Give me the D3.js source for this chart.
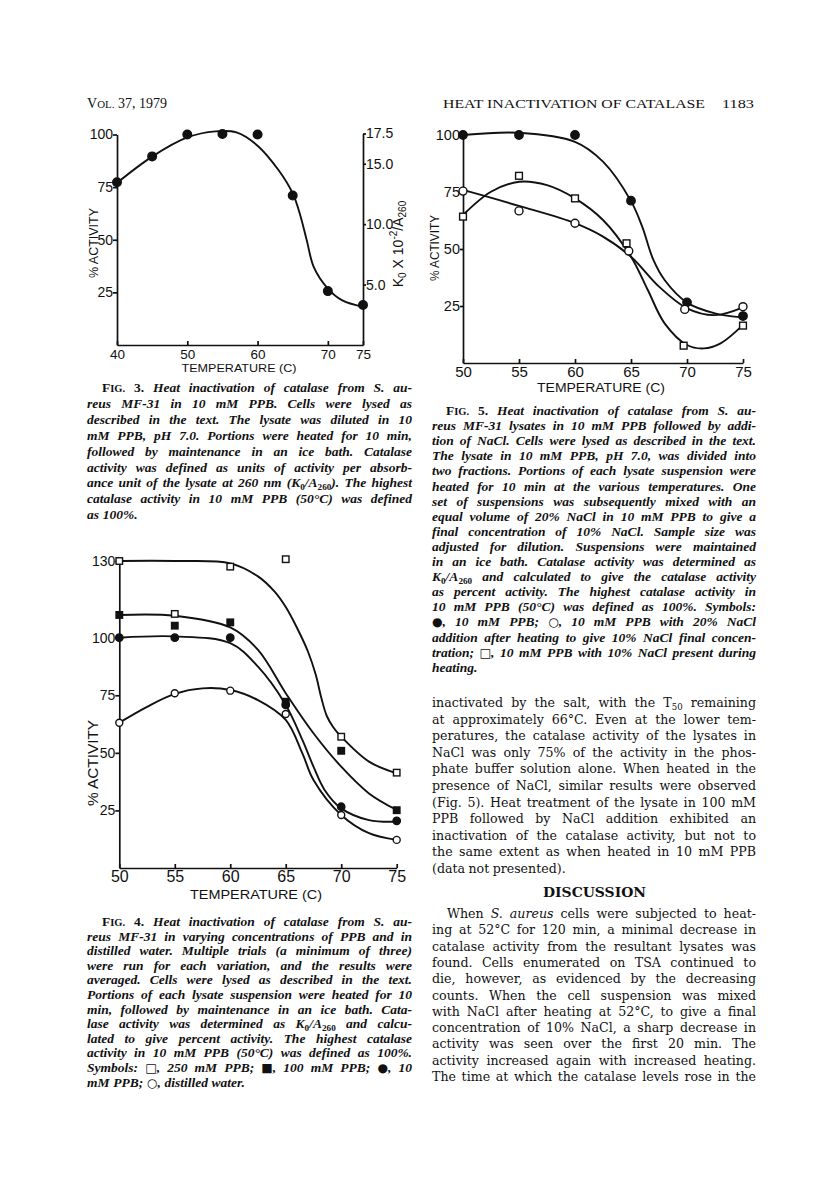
<!DOCTYPE html>
<html><head><meta charset="utf-8">
<script src="https://cdn.jsdelivr.net/npm/d3@7"></script>
<style>body{margin:0;background:#fff}svg{display:block}</style>
</head><body>
<svg id="page" width="816" height="1203"></svg>
<script>
// ---------------- DATA ----------------
// Fig. 3
const fig3Temps = [40, 45, 50, 55, 60, 65, 70, 75];
const fig3Activity = [77.3, 89.6, 100, 100.2, 100, 71, 25.6, 19];
const fig3CurveTemps = [40, 45, 50, 54, 57, 60, 63, 65, 66, 67, 68, 70, 72, 75];
const fig3CurveActivity = [77, 89.5, 98.6, 101.5, 101, 94.7, 83, 72, 62.5, 49.7, 37, 26.8, 21.3, 18.1];
const fig3XTicks = [40, 50, 60, 70, 75];
const fig3YTicks = [25, 50, 75, 100];
const fig3RightTicks = [5, 10, 15, 17.5];

// Fig. 4
const fig4Temps = [50, 55, 60, 65, 70, 75];
const fig4PPB250 = [130, 109.3, 127.8, 130.7, 57, 41.4];
const fig4PPB100 = [108.9, 104.7, 106, 72.2, 50.9, 25.1];
const fig4PPB10 = [100, 100, 100, 70.8, 26.6, 20.5];
const fig4Water = [63.1, 75.9, 77, 66.9, 23, 12.2];
const fig4Curve250Temps = [50, 55, 60, 62.5, 64, 65, 66, 67, 67.7, 68.2, 68.7, 69.3, 70, 72.5, 75];
const fig4Curve250 = [130, 130, 129.1, 124, 118, 112, 104, 94, 84, 74, 66, 61, 57, 46.2, 41.1];
const fig4Curve100Temps = [50, 55, 60, 62.5, 65, 67.5, 70, 72.5, 75];
const fig4Curve100 = [108.9, 108.6, 104, 94.7, 75.9, 58.5, 44, 32.4, 25.2];
const fig4Curve10Temps = [50, 55, 60, 62.5, 65, 66.5, 67.5, 68.5, 70, 72.5, 75];
const fig4Curve10 = [100, 100.5, 97.6, 87.4, 70.8, 55.6, 44, 33.9, 25.9, 20.8, 20.1];
const fig4CurveWaterTemps = [50, 52.5, 55, 57.5, 60, 62.5, 65, 66.5, 67.5, 70, 72.5, 75];
const fig4CurveWater = [63.1, 70, 75.6, 78, 77.3, 72.9, 64.3, 49.8, 38.2, 23, 15.1, 12.2];
const fig4XTicks = [50, 55, 60, 65, 70, 75];
const fig4YTicks = [25, 50, 75, 100, 130];

// Fig. 5
const fig5Temps = [50, 55, 60, 65, 70, 75];
const fig5PPB = [100, 100, 100, 71.2, 26.6, 20.6];
const fig5AfterTemps = [50, 55, 60, 64.8, 69.8, 75];
const fig5NaClAfter = [75.4, 66.7, 61.3, 49.1, 23.5, 24.7];
const fig5DuringTemps = [50, 55, 60, 64.6, 69.7, 75];
const fig5NaClDuring = [64.2, 82.1, 72.2, 52.5, 7.6, 16.4];
const fig5CurvePPBTemps = [50, 55, 60, 62.5, 65, 66, 67, 68, 70, 72.5, 75];
const fig5CurvePPB = [100, 101, 97, 88.3, 71, 59.8, 45.2, 36.4, 26.5, 21.8, 20];
const fig5CurveAfterTemps = [50, 55, 60, 62.5, 65, 67.5, 70, 72.5, 75];
const fig5CurveAfter = [75.9, 68.9, 61.3, 55.4, 46.6, 33.5, 24, 21, 24.4];
const fig5CurveDuringTemps = [50, 52.5, 55, 57.5, 60, 62.5, 65, 66.5, 68, 70, 71.5, 73, 75];
const fig5CurveDuring = [64.9, 75.1, 79.5, 78, 72.2, 62.7, 46.6, 32, 17.4, 7.9, 6.4, 8.6, 16.7];
const fig5XTicks = [50, 55, 60, 65, 70, 75];
const fig5YTicks = [25, 50, 75, 100];

// ---------------- TEXT ----------------
const headerLeft = "V|OL.| 37, 1979";
const headerTitle = "HEAT INACTIVATION OF CATALASE";
const headerPage = "1183";

const fig3Caption = [
  "*F|IG.| 3.* Heat inactivation of catalase from S. au-",
  "reus MF-31 in 10 mM PPB. Cells were lysed as",
  "described in the text. The lysate was diluted in 10",
  "mM PPB, pH 7.0. Portions were heated for 10 min,",
  "followed by maintenance in an ice bath. Catalase",
  "activity was defined as units of activity per absorb-",
  "ance unit of the lysate at 260 nm (K_{0}/A_{260}). The highest",
  "catalase activity in 10 mM PPB (50°C) was defined",
  "as 100%."
];
const fig4Caption = [
  "*F|IG.| 4.* Heat inactivation of catalase from S. au-",
  "reus MF-31 in varying concentrations of PPB and in",
  "distilled water. Multiple trials (a minimum of three)",
  "were run for each variation, and the results were",
  "averaged. Cells were lysed as described in the text.",
  "Portions of each lysate suspension were heated for 10",
  "min, followed by maintenance in an ice bath. Cata-",
  "lase activity was determined as K_{0}/A_{260} and calcu-",
  "lated to give percent activity. The highest catalase",
  "activity in 10 mM PPB (50°C) was defined as 100%.",
  "Symbols: *□*, 250 mM PPB; *■*, 100 mM PPB; *●*, 10",
  "mM PPB; *○*, distilled water."
];
const fig5Caption = [
  "*F|IG.| 5.* Heat inactivation of catalase from S. au-",
  "reus MF-31 lysates in 10 mM PPB followed by addi-",
  "tion of NaCl. Cells were lysed as described in the text.",
  "The lysate in 10 mM PPB, pH 7.0, was divided into",
  "two fractions. Portions of each lysate suspension were",
  "heated for 10 min at the various temperatures. One",
  "set of suspensions was subsequently mixed with an",
  "equal volume of 20% NaCl in 10 mM PPB to give a",
  "final concentration of 10% NaCl. Sample size was",
  "adjusted for dilution. Suspensions were maintained",
  "in an ice bath. Catalase activity was determined as",
  "K_{0}/A_{260} and calculated to give the catalase activity",
  "as percent activity. The highest catalase activity in",
  "10 mM PPB (50°C) was defined as 100%. Symbols:",
  "*●*, 10 mM PPB; *○*, 10 mM PPB with 20% NaCl",
  "addition after heating to give 10% NaCl final concen-",
  "tration; *□*, 10 mM PPB with 10% NaCl present during",
  "heating."
];
const bodyPara1 = [
  "inactivated by the salt, with the T_{50} remaining",
  "at approximately 66°C. Even at the lower tem-",
  "peratures, the catalase activity of the lysates in",
  "NaCl was only 75% of the activity in the phos-",
  "phate buffer solution alone. When heated in the",
  "presence of NaCl, similar results were observed",
  "(Fig. 5). Heat treatment of the lysate in 100 mM",
  "PPB followed by NaCl addition exhibited an",
  "inactivation of the catalase activity, but not to",
  "the same extent as when heated in 10 mM PPB",
  "(data not presented)."
];
const discussionHeading = "DISCUSSION";
const bodyPara2 = [
  "When *S. aureus* cells were subjected to heat-",
  "ing at 52°C for 120 min, a minimal decrease in",
  "catalase activity from the resultant lysates was",
  "found. Cells enumerated on TSA continued to",
  "die, however, as evidenced by the decreasing",
  "counts. When the cell suspension was mixed",
  "with NaCl after heating at 52°C, to give a final",
  "concentration of 10% NaCl, a sharp decrease in",
  "activity was seen over the first 20 min. The",
  "activity increased again with increased heating.",
  "The time at which the catalase levels rose in the"
];

// ---------------- RENDER ----------------
const INK = "#111";
const svg = d3.select("#page");
svg.append("rect").attr("width", 816).attr("height", 1203).attr("fill", "#fff");
const SANS = "'Liberation Sans', Arial, sans-serif";
const CAPF = "'Liberation Serif', serif";
const BODYF = "'DejaVu Serif', serif";
const SYMF = "'DejaVu Sans', sans-serif";

function parseRuns(str, italic0) {
  const runs = []; let italic = italic0, sc = false, buf = "";
  const flush = () => { if (buf) runs.push({ text: buf, italic, sc, shift: null }); buf = ""; };
  for (let i = 0; i < str.length; i++) {
    const c = str[i];
    if (c === "*") { flush(); italic = !italic; continue; }
    if (c === "|") { flush(); sc = !sc; continue; }
    if ((c === "_" || c === "^") && str[i + 1] === "{") {
      flush(); const j = str.indexOf("}", i);
      runs.push({ text: str.slice(i + 2, j), italic: false, sc: false, shift: c === "_" ? "sub" : "sup" });
      i = j; continue;
    }
    if ("□■●○".includes(c)) { flush(); runs.push({ text: c, italic: false, sc: false, shift: null, sym: true }); continue; }
    buf += c;
  }
  flush();
  return runs;
}
function splitWords(runs) {
  const words = []; let cur = [];
  runs.forEach(r => {
    const parts = r.text.split(" ");
    parts.forEach((p, k) => {
      if (k > 0) { if (cur.length) words.push(cur); cur = []; }
      if (p) cur.push(Object.assign({}, r, { text: p }));
    });
  });
  if (cur.length) words.push(cur);
  return words;
}
function renderRuns(t, runs, st) {
  let off = 0;
  runs.forEach(r => {
    let size = st.size, target = 0;
    if (r.shift === "sub") { size = st.size * 0.68; target = st.size * 0.22; }
    if (r.shift === "sup") { size = st.size * 0.68; target = -st.size * 0.38; }
    if (r.sc) size = st.size * 0.78;
    if (r.sym) size = st.size * 0.9;
    const ts = t.append("tspan").text(r.text)
      .attr("font-style", r.italic ? "italic" : "normal")
      .attr("font-size", size);
    if (r.sym) ts.attr("font-family", SYMF).attr("font-weight", "normal");
    if (target !== off) { ts.attr("dy", target - off); off = target; }
  });
}
function block(lines, o) {
  const st = o.style;
  lines.forEach((line, i) => {
    const words = splitWords(parseRuns(line, st.italic));
    const y = o.y0 + i * o.dy;
    const lx0 = o.x0 + (i === 0 ? (o.indent || 0) : 0);
    const width = o.x1 - lx0;
    const lg = svg.append("g");
    const ws = words.map(w => {
      const t = lg.append("text").attr("font-family", st.family).attr("font-size", st.size)
        .attr("font-weight", st.weight).attr("fill", INK);
      renderRuns(t, w, st);
      return { t, w: t.node().getComputedTextLength() };
    });
    const total = d3.sum(ws, d => d.w);
    const sp = st.size * 0.27;
    const isLast = i === lines.length - 1;
    const justify = !(isLast && !o.lastJustified);
    let gap = sp;
    if (justify && ws.length > 1) gap = (width - total) / (ws.length - 1);
    let sx = 1;
    if (gap < sp * 0.6) { gap = sp * 0.6; const nat = total + gap * (ws.length - 1); if (nat > width) sx = width / nat; }
    let cx = 0;
    ws.forEach(d => { d.t.attr("x", cx); cx += d.w + gap; });
    lg.attr("transform", `translate(${lx0},${y}) scale(${sx},1)`);
  });
}

// Header
(function () {
  const t = svg.append("text").attr("x", 87).attr("y", 108).attr("font-family", CAPF)
    .attr("font-size", 14).attr("fill", INK);
  renderRuns(t, parseRuns(headerLeft, false), { size: 14 });
  svg.append("text").attr("x", 443).attr("y", 108).attr("font-family", CAPF).attr("font-size", 13.5)
    .attr("fill", INK).attr("textLength", 262).attr("lengthAdjust", "spacingAndGlyphs").text(headerTitle);
  svg.append("text").attr("x", 722).attr("y", 108).attr("font-family", CAPF).attr("font-size", 13.5)
    .attr("fill", INK).attr("textLength", 32).attr("lengthAdjust", "spacingAndGlyphs").text(headerPage);
})();

// Captions and body text
const capStyle = { family: CAPF, size: 13.5, weight: "bold", italic: true };
const bodyStyle = { family: BODYF, size: 12.6, weight: "normal", italic: false };
block(fig3Caption, { x0: 87, x1: 412, y0: 392, dy: 15.9, indent: 15, style: capStyle });
block(fig4Caption, { x0: 87, x1: 412, y0: 926, dy: 14.6, indent: 15, style: capStyle });
block(fig5Caption, { x0: 432, x1: 756, y0: 415, dy: 15.1, indent: 14, style: capStyle });
block(bodyPara1, { x0: 432, x1: 756, y0: 707, dy: 16.6, indent: 0, style: bodyStyle });
svg.append("text").attr("x", 543).attr("y", 897).attr("font-family", BODYF).attr("font-weight", "bold")
  .attr("font-size", 13.5).attr("fill", INK).attr("textLength", 103).attr("lengthAdjust", "spacingAndGlyphs")
  .text(discussionHeading);
block(bodyPara2, { x0: 432, x1: 756, y0: 918, dy: 16.3, indent: 15, lastJustified: true, style: bodyStyle });

// ---------------- CHARTS ----------------
function zip(a, b) { return a.map((v, i) => [v, b[i]]); }
function styleAxis(sel, size) {
  sel.attr("color", INK).attr("font-family", SANS).attr("font-size", size);
  sel.selectAll("path,line").attr("stroke-width", 1.7);
}
function drawCurve(g, x, y, temps, vals) {
  g.append("path").datum(zip(temps, vals))
    .attr("fill", "none").attr("stroke", INK).attr("stroke-width", 1.9)
    .attr("d", d3.line().x(d => x(d[0])).y(d => y(d[1])).curve(d3.curveCatmullRom.alpha(0.5)));
}
function drawMarkers(g, x, y, temps, vals, kind, size) {
  const pts = zip(temps, vals);
  if (kind === "circle" || kind === "ocircle") {
    g.selectAll(null).data(pts).join("circle")
      .attr("cx", d => x(d[0])).attr("cy", d => y(d[1])).attr("r", size)
      .attr("fill", kind === "circle" ? INK : "#fff").attr("stroke", INK).attr("stroke-width", 1.4);
  } else {
    g.selectAll(null).data(pts).join("rect")
      .attr("x", d => x(d[0]) - size / 2).attr("y", d => y(d[1]) - size / 2)
      .attr("width", size).attr("height", size)
      .attr("fill", kind === "square" ? INK : "#fff").attr("stroke", INK).attr("stroke-width", 1.4);
  }
}
function label(text, x, y, size, len, rotate) {
  const t = svg.append("text").attr("font-family", SANS).attr("font-size", size).attr("fill", INK)
    .attr("textLength", len).attr("lengthAdjust", "spacingAndGlyphs").text(text);
  if (rotate) t.attr("transform", `translate(${x},${y}) rotate(-90)`).attr("x", -len / 2).attr("dy", "0.36em");
  else t.attr("x", x - len / 2).attr("y", y);
  return t;
}

// Fig. 3
(function () {
  const g = svg.append("g");
  const x = d3.scaleLinear().domain([40, 75]).range([117, 363]);
  const y = d3.scaleLinear().domain([0, 100]).range([345, 134.5]);
  const y2 = d3.scaleLinear().domain([0, 17.5]).range([345, 133.5]);
  g.append("g").attr("transform", "translate(0,345)")
    .call(d3.axisBottom(x).tickValues(fig3XTicks).tickSize(-4).tickSizeOuter(0).tickPadding(4).tickFormat(d3.format("d")))
    .call(s => styleAxis(s, 13.5));
  g.append("g").attr("transform", "translate(117,0)")
    .call(d3.axisLeft(y).tickValues(fig3YTicks).tickSize(4).tickSizeOuter(0).tickPadding(0))
    .call(s => styleAxis(s, 14));
  g.append("g").attr("transform", "translate(363,0)")
    .call(d3.axisRight(y2).tickValues(fig3RightTicks).tickSize(3).tickSizeOuter(0).tickPadding(0).tickFormat(d3.format(".1f")))
    .call(s => styleAxis(s, 14));
  drawCurve(g, x, y, fig3CurveTemps, fig3CurveActivity);
  drawMarkers(g, x, y, fig3Temps, fig3Activity, "circle", 4.3);
  label("TEMPERATURE (C)", 239, 372, 11, 115);
  label("% ACTIVITY", 93, 243, 12.5, 70, true);
  const t = svg.append("text").attr("font-family", SANS).attr("font-size", 14).attr("fill", INK)
    .attr("transform", "translate(398,244) rotate(-90)").attr("text-anchor", "middle").attr("dy", "0.36em");
  t.append("tspan").text("K");
  t.append("tspan").text("0").attr("font-size", 10).attr("dy", 3);
  t.append("tspan").text(" X 10").attr("dy", -3);
  t.append("tspan").text("-2").attr("font-size", 10).attr("dy", -6);
  t.append("tspan").text("/A").attr("dy", 6);
  t.append("tspan").text("260").attr("font-size", 10).attr("dy", 3);
})();

// Fig. 4
(function () {
  const g = svg.append("g");
  const x = d3.scaleLinear().domain([50, 75]).range([119.3, 396.7]);
  const y = d3.scaleLinear().domain([0, 100, 130]).range([868, 637.7, 561]);
  g.append("g").attr("transform", "translate(0,868)")
    .call(d3.axisBottom(x).tickValues(fig4XTicks).tickSize(-4).tickSizeOuter(0).tickPadding(3))
    .call(s => styleAxis(s, 16));
  g.append("g").attr("transform", "translate(119.3,0)")
    .call(d3.axisLeft(y).tickValues(fig4YTicks).tickSize(4).tickSizeOuter(0).tickPadding(0))
    .call(s => styleAxis(s, 14));
  drawCurve(g, x, y, fig4Curve250Temps, fig4Curve250);
  drawCurve(g, x, y, fig4Curve100Temps, fig4Curve100);
  drawCurve(g, x, y, fig4Curve10Temps, fig4Curve10);
  drawCurve(g, x, y, fig4CurveWaterTemps, fig4CurveWater);
  drawMarkers(g, x, y, fig4Temps, fig4PPB250, "osquare", 6.5);
  drawMarkers(g, x, y, fig4Temps, fig4PPB100, "square", 6.5);
  drawMarkers(g, x, y, fig4Temps, fig4PPB10, "circle", 3.7);
  drawMarkers(g, x, y, fig4Temps, fig4Water, "ocircle", 3.5);
  label("TEMPERATURE (C)", 256, 899, 13.5, 132);
  label("% ACTIVITY", 93, 763, 15, 86, true);
})();

// Fig. 5
(function () {
  const g = svg.append("g");
  const x = d3.scaleLinear().domain([50, 75]).range([463, 743]);
  const y = d3.scaleLinear().domain([0, 100]).range([363, 135]);
  g.append("g").attr("transform", "translate(0,363)")
    .call(d3.axisBottom(x).tickValues(fig5XTicks).tickSize(-4).tickSizeOuter(0).tickPadding(3))
    .call(s => styleAxis(s, 15));
  g.append("g").attr("transform", "translate(463,0)")
    .call(d3.axisLeft(y).tickValues(fig5YTicks).tickSize(3).tickSizeOuter(0).tickPadding(0))
    .call(s => styleAxis(s, 14.5));
  drawCurve(g, x, y, fig5CurvePPBTemps, fig5CurvePPB);
  drawCurve(g, x, y, fig5CurveAfterTemps, fig5CurveAfter);
  drawCurve(g, x, y, fig5CurveDuringTemps, fig5CurveDuring);
  drawMarkers(g, x, y, fig5Temps, fig5PPB, "circle", 4.2);
  drawMarkers(g, x, y, fig5AfterTemps, fig5NaClAfter, "ocircle", 4);
  drawMarkers(g, x, y, fig5DuringTemps, fig5NaClDuring, "osquare", 6.8);
  label("TEMPERATURE (C)", 601, 392, 12.5, 128);
  label("% ACTIVITY", 434, 248, 13, 66, true);
})();
</script>
</body></html>
